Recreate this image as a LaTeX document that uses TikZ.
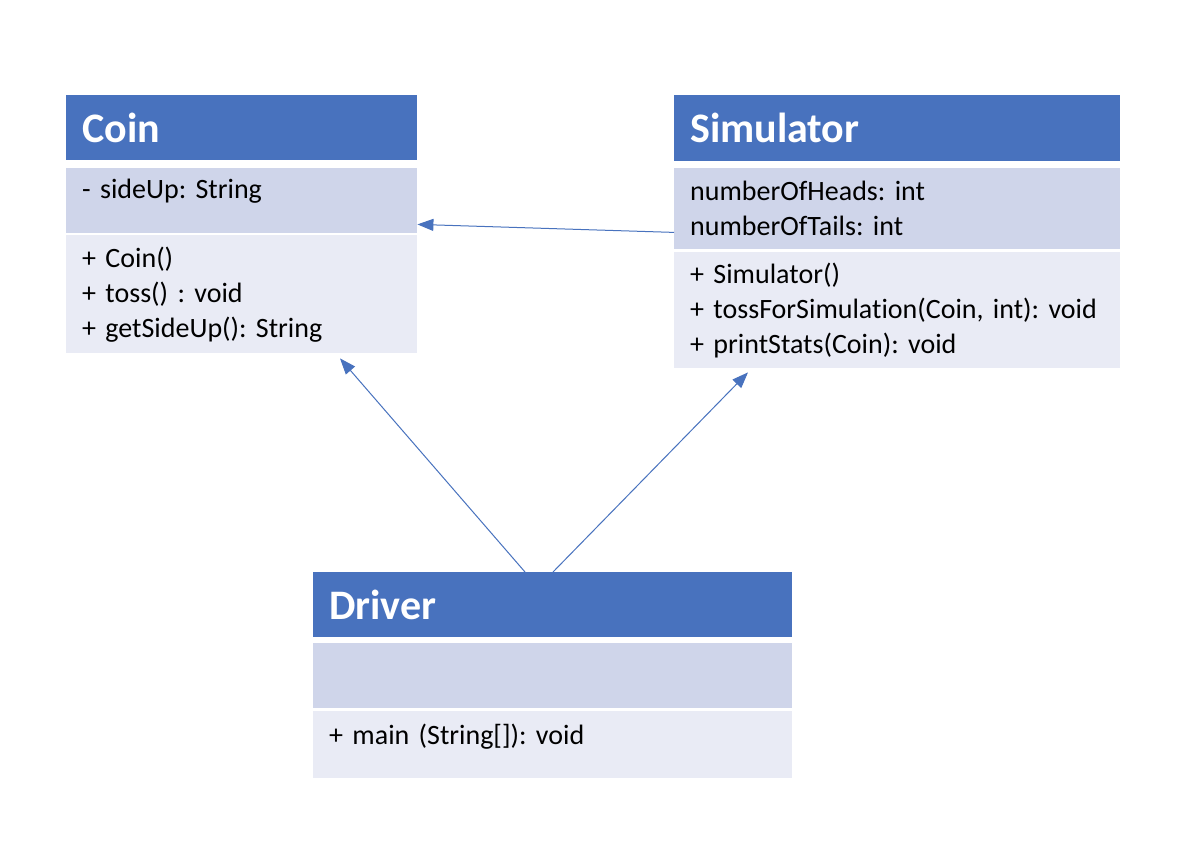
\documentclass[tikz,border=0pt]{standalone}
\usepackage{fontspec}
\setmainfont{Carlito}[RawFeature={-liga}]
\usepackage{xcolor}
\usepackage{tikz}
\usetikzlibrary{arrows.meta, positioning}
\frenchspacing
\definecolor{headcolor}{RGB}{72, 114, 190}
\definecolor{attrcolor}{RGB}{207, 213, 234}
\definecolor{methcolor}{RGB}{233, 235, 245}
\tikzstyle{part} = [rectangle, anchor=north west, inner sep=0pt, inner xsep=16pt, align=left, font=\fontsize{28}{35}\selectfont]
\tikzstyle{head} = [part, fill=headcolor, text=white, font=\fontsize{42}{50}\selectfont\bfseries]
\tikzstyle{attr} = [part, fill=attrcolor]
\tikzstyle{meth} = [part, fill=methcolor]
\tikzstyle{arrow} = [draw=headcolor, line width=1pt, -{Triangle[length=16pt, width=12pt]}]

\begin{document}
\begin{tikzpicture}[x=1pt, y=-1pt]
\fill[white] (0,0) rectangle (1204,856);

% Coin
\node (coinhead) [head, text width=319pt, minimum height=65pt] at (66,95) {Coin};
\node (coinattr) [attr, text width=319pt, minimum height=65pt, text depth=24pt] at (66,168) {- sideUp: String};
\node (coinmeth) [meth, text width=319pt, minimum height=118pt] at (66,235) {+ Coin()\\+ toss() : void\\+ getSideUp(): String};

% Simulator
\node (simhead) [head, text width=414pt, minimum height=66pt] at (674,95) {Simulator};
\node (simattr) [attr, text width=414pt, minimum height=81pt] at (674,168) {numberOfHeads: int\\numberOfTails: int};
\node (simmeth) [meth, text width=414pt, minimum height=116pt] at (674,252) {+ Simulator()\\+ tossForSimulation(Coin, int): void\\+ printStats(Coin): void};

% Driver
\node (drvhead) [head, text width=447pt, minimum height=65pt] at (313,572) {Driver};
\node (drvattr) [attr, text width=447pt, minimum height=65pt] at (313,643) {};
\node (drvmeth) [meth, text width=447pt, minimum height=67pt, text depth=20pt] at (313,711) {+ main (String[]): void};

% Arrows
\draw [arrow] ([yshift=17pt]simattr.south west) -- ([yshift=9pt]coinattr.south east);
\draw [arrow] ([xshift=212pt]drvhead.north west) -- ([xshift=274pt, yshift=-5pt]coinmeth.south west);
\draw [arrow] ([xshift=240pt]drvhead.north west) -- ([xshift=74pt, yshift=-4pt]simmeth.south west);

\end{tikzpicture}
\end{document}
